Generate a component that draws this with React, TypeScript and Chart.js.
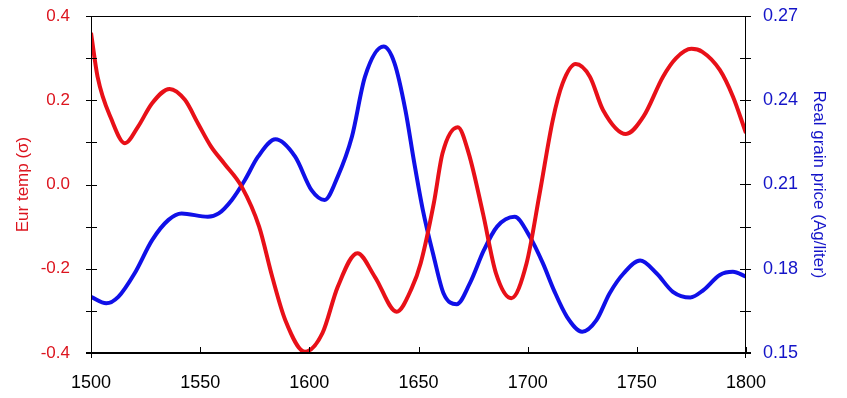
import React, { useEffect, useRef } from "react";
import { Chart, registerables } from "chart.js";

Chart.register(...registerables);

// Data
const tempYears = [1500, 1503, 1509.5, 1515.5, 1521.5, 1528, 1536, 1543, 1549, 1555, 1561, 1569, 1577, 1583, 1589, 1598, 1606, 1613, 1622, 1630, 1640, 1647, 1651, 1657, 1661, 1668, 1673, 1679.5, 1685.5, 1692.5, 1699.5, 1705.5, 1711.5, 1716, 1722, 1728.5, 1734.5, 1745, 1753, 1762, 1768, 1775, 1780, 1788, 1794, 1800];
const tempValues = [0.36, 0.256, 0.153, 0.098, 0.137, 0.193, 0.227, 0.201, 0.145, 0.09, 0.05, -0.005, -0.1, -0.219, -0.322, -0.397, -0.353, -0.243, -0.163, -0.219, -0.302, -0.245, -0.187, -0.045, 0.074, 0.136, 0.074, -0.068, -0.211, -0.27, -0.187, -0.021, 0.153, 0.24, 0.286, 0.256, 0.177, 0.12, 0.161, 0.256, 0.3, 0.322, 0.315, 0.272, 0.209, 0.122];

const priceYears = [1500, 1507, 1512.5, 1520, 1528, 1535.5, 1541.5, 1553.5, 1558.5, 1564.5, 1570.5, 1576.5, 1584.5, 1593.5, 1601, 1607, 1613, 1619.5, 1625.5, 1634, 1639, 1644, 1648, 1652, 1657, 1661.5, 1667.5, 1673.5, 1680, 1686, 1694, 1701, 1707, 1712, 1718, 1725, 1731.5, 1737.5, 1744, 1751.5, 1759, 1766.5, 1774.5, 1780.5, 1788, 1794, 1800];
const priceValues = [0.17, 0.1677, 0.17, 0.1784, 0.1902, 0.1974, 0.1997, 0.1985, 0.1997, 0.2045, 0.2116, 0.2199, 0.2261, 0.2199, 0.208, 0.2045, 0.2128, 0.227, 0.2484, 0.2591, 0.2532, 0.2365, 0.218, 0.2009, 0.1843, 0.1712, 0.1674, 0.1748, 0.1867, 0.195, 0.1985, 0.1914, 0.1819, 0.1724, 0.1629, 0.1576, 0.1617, 0.1712, 0.1784, 0.1829, 0.1784, 0.1718, 0.1698, 0.1724, 0.1778, 0.1789, 0.1772];

const xMin = 1500, xMax = 1800, xStep = 50;
const tempMin = -0.4, tempMax = 0.4, tempStep = 0.1, tempLabelStep = 0.2;
const priceMin = 0.15, priceMax = 0.27, priceStep = 0.015, priceLabelStep = 0.03;

const tempTitle = "Eur temp (σ)";
const priceTitle = "Real grain price (Ag/liter)";

const RED = "rgb(232,16,24)";
const BLUE = "rgb(16,16,232)";
const RED_TEXT = "rgb(220,20,30)";
const BLUE_TEXT = "rgb(20,20,200)";
const FONT = "'Liberation Sans', Arial, sans-serif";

const axesPlugin = {
  id: "axesBox",
  afterDraw(chart: any) {
    const ctx = chart.ctx;
    const { left, right, top, bottom } = chart.chartArea;
    const yL = chart.scales.yTemp;
    const yR = chart.scales.yPrice;
    const x = chart.scales.x;
    ctx.save();
    ctx.strokeStyle = "#000";
    ctx.lineWidth = 1;
    ctx.beginPath();
    ctx.moveTo(left, top + 0.5);
    ctx.lineTo(right, top + 0.5);
    ctx.moveTo(left + 0.5, top);
    ctx.lineTo(left + 0.5, bottom + 5);
    ctx.moveTo(right - 0.5, top);
    ctx.lineTo(right - 0.5, bottom + 5);
    for (let v = tempMin; v <= tempMax + 1e-9; v += tempStep) {
      const py = Math.round(yL.getPixelForValue(v)) + 0.5;
      ctx.moveTo(left - 5, py);
      ctx.lineTo(left + 6, py);
    }
    for (let v = priceMin; v <= priceMax + 1e-9; v += priceStep) {
      const py = Math.round(yR.getPixelForValue(v)) + 0.5;
      ctx.moveTo(right - 6, py);
      ctx.lineTo(right + 5, py);
    }
    for (let v = xMin; v <= xMax; v += xStep) {
      const px = Math.round(x.getPixelForValue(v)) + 0.5;
      ctx.moveTo(px, bottom - 6);
      ctx.lineTo(px, bottom);
    }
    ctx.stroke();
    ctx.lineWidth = 2;
    ctx.beginPath();
    ctx.moveTo(left - 5, bottom);
    ctx.lineTo(right + 5, bottom);
    ctx.stroke();
    ctx.restore();
  },
};

export default function App() {
  const ref = useRef<HTMLCanvasElement | null>(null);

  useEffect(() => {
    if (!ref.current) return;
    const chart = new Chart(ref.current, {
      type: "line",
      data: {
        datasets: [
          {
            label: "temp",
            data: tempYears.map((y, i) => ({ x: y, y: tempValues[i] })),
            borderColor: RED,
            borderWidth: 4,
            pointRadius: 0,
            cubicInterpolationMode: "monotone",
            yAxisID: "yTemp",
          },
          {
            label: "price",
            data: priceYears.map((y, i) => ({ x: y, y: priceValues[i] })),
            borderColor: BLUE,
            borderWidth: 4,
            pointRadius: 0,
            cubicInterpolationMode: "monotone",
            yAxisID: "yPrice",
          },
        ],
      },
      options: {
        responsive: false,
        animation: false,
        layout: { padding: { top: 16, left: 0, right: 0, bottom: 0 } },
        plugins: { legend: { display: false }, tooltip: { enabled: false } },
        scales: {
          x: {
            type: "linear",
            min: xMin,
            max: xMax,
            grid: { display: false, drawTicks: false },
            border: { display: false },
            ticks: {
              stepSize: xStep,
              color: "#000",
              padding: 19,
              font: { family: FONT, size: 18 },
              callback: (v: any) => String(v),
            },
            afterFit: (s: any) => { s.height = 45; s.paddingLeft = 0; s.paddingRight = 0; },
          },
          yTemp: {
            position: "left",
            min: tempMin,
            max: tempMax,
            grid: { display: false, drawTicks: false },
            border: { display: false },
            ticks: {
              stepSize: tempStep,
              color: RED_TEXT,
              padding: 21,
              font: { family: FONT, size: 17 },
              callback: (v: any) => {
                const n = Number(v);
                const r = Math.round(n / tempLabelStep);
                return Math.abs(n - r * tempLabelStep) < 1e-6 ? n.toFixed(1) : "";
              },
            },
            title: {
              display: true,
              text: tempTitle,
              color: RED_TEXT,
              font: { family: FONT, size: 17 },
              padding: { top: 13, bottom: 0 },
            },
            afterFit: (s: any) => { s.width = 91; s.paddingTop = 0; s.paddingBottom = 0; },
          },
          yPrice: {
            position: "right",
            min: priceMin,
            max: priceMax,
            grid: { display: false, drawTicks: false },
            border: { display: false },
            ticks: {
              stepSize: priceStep,
              color: BLUE_TEXT,
              padding: 17,
              font: { family: FONT, size: 18 },
              callback: (v: any) => {
                const n = Number(v);
                const r = Math.round((n - priceMin) / priceLabelStep);
                return Math.abs(n - priceMin - r * priceLabelStep) < 1e-6 ? n.toFixed(2) : "";
              },
            },
            title: {
              display: true,
              text: priceTitle,
              color: BLUE_TEXT,
              font: { family: FONT, size: 17 },
              padding: { top: 18, bottom: 0 },
            },
            afterFit: (s: any) => { s.width = 101; s.paddingTop = 0; s.paddingBottom = 0; },
          },
        },
      },
      plugins: [axesPlugin],
    } as any);
    return () => chart.destroy();
  }, []);

  return (
    <div style={{ position: "fixed", left: 0, top: 0, width: 847, height: 398, background: "#fff" }}>
      <canvas ref={ref} width={847} height={398} style={{ width: 847, height: 398, display: "block" }} />
    </div>
  );
}
